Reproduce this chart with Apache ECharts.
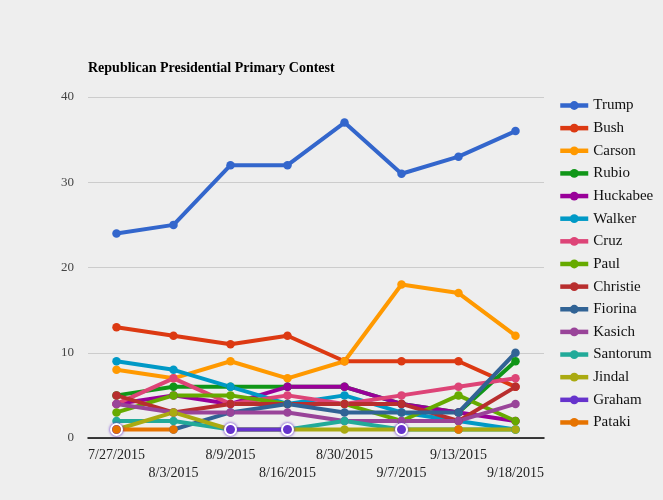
<!DOCTYPE html>
<html>
<head>
<meta charset="utf-8">
<script src="https://cdn.jsdelivr.net/npm/echarts@6/dist/echarts.min.js"></script>
<style>
html,body{margin:0;padding:0;background:#eeeeee;}
#chart{width:663px;height:500px;}
</style>
</head>
<body>
<div id="chart"></div>
<script>
const dates = ['7/27/2015','8/3/2015','8/9/2015','8/16/2015','8/30/2015','9/7/2015','9/13/2015','9/18/2015'];
const yTicks = [0, 10, 20, 30, 40];
const candidates = ['Trump','Bush','Carson','Rubio','Huckabee','Walker','Cruz','Paul','Christie','Fiorina','Kasich','Santorum','Jindal','Graham','Pataki'];
const colors = ['#3366cc','#dc3912','#ff9900','#109618','#990099','#0099c6','#dd4477','#66aa00','#b82e2e','#316395','#994499','#22aa99','#aaaa11','#6633cc','#e67300'];
const trump    = [24, 25, 32, 32, 37, 31, 33, 36];
const bush     = [13, 12, 11, 12, 9, 9, 9, 6];
const carson   = [8, 7, 9, 7, 9, 18, 17, 12];
const rubio    = [5, 6, 6, 6, 6, 4, 3, 9];
const huckabee = [4, 5, 4, 6, 6, 4, 3, 2];
const walker   = [9, 8, 6, 4, 5, 3, 2, 1];
const cruz     = [4, 7, 4, 5, 4, 5, 6, 7];
const paul     = [3, 5, 5, 4, 4, 2, 5, 2];
const christie = [5, 3, 4, 4, 4, 4, 2, 6];
const fiorina  = [null, 1, 3, 4, 3, 3, 3, 10];
const kasich   = [4, 3, 3, 3, 2, 2, 2, 4];
const santorum = [2, 2, 1, 1, 2, 1, 1, 1];
const jindal   = [1, 3, 1, 1, 1, 1, 1, 1];
const graham   = [1, null, 1, 1, null, 1, null, null];
const pataki   = [1, 1, null, null, null, null, 1, null];
const values = [trump, bush, carson, rubio, huckabee, walker, cruz, paul, christie, fiorina, kasich, santorum, jindal, graham, pataki];

const FONT = 'Liberation Serif';
const series = candidates.map((name, i) => {
  const s = {
    name: name,
    type: 'line',
    data: values[i],
    symbol: 'circle',
    symbolSize: 8.5,
    showAllSymbol: true,
    lineStyle: { width: 4, color: colors[i] },
    itemStyle: { color: colors[i] },
    emphasis: { disabled: true },
    animation: false
  };
  if (name === 'Graham') {
    s.symbolSize = 11;
    s.itemStyle = { color: colors[i], borderColor: '#ffffff', borderWidth: 2, shadowColor: colors[i], shadowBlur: 3 };
  }
  return s;
});

const chart = echarts.init(document.getElementById('chart'));
chart.setOption({
  backgroundColor: '#eeeeee',
  color: colors,
  animation: false,
  title: {
    text: 'Republican Presidential Primary Contest',
    left: 83, top: 56,
    textStyle: { fontFamily: FONT, fontSize: 14, fontWeight: 'bold', color: '#000' }
  },
  legend: {
    orient: 'vertical',
    left: 553, top: 93,
    itemWidth: 28, itemHeight: 11,
    itemGap: 7.64,
    lineStyle: { width: 4.5 },
    textStyle: { fontFamily: FONT, fontSize: 15, color: '#111' },
    data: candidates.map((n, i) => n === 'Graham'
      ? { name: n, itemStyle: { borderWidth: 0, shadowBlur: 0 } }
      : { name: n })
  },
  grid: { left: 88, right: 119, top: 97, bottom: 62, containLabel: false },
  xAxis: {
    type: 'category',
    data: dates,
    boundaryGap: true,
    axisLine: { show: true, lineStyle: { color: '#000', width: 1.5 } },
    axisTick: { show: false },
    axisLabel: {
      interval: 0,
      margin: 8,
      fontFamily: FONT, fontSize: 14, color: '#222', lineHeight: 18,
      formatter: (v, idx) => (idx % 2 === 1 ? '\n' + v : v)
    }
  },
  yAxis: {
    type: 'value',
    min: yTicks[0], max: yTicks[yTicks.length - 1], interval: 10,
    axisLine: { show: false },
    axisTick: { show: false },
    splitLine: { lineStyle: { color: '#cccccc', width: 1 } },
    axisLabel: { fontFamily: FONT, fontSize: 13, color: '#444', margin: 14 }
  },
  series: series
});
</script>
</body>
</html>
